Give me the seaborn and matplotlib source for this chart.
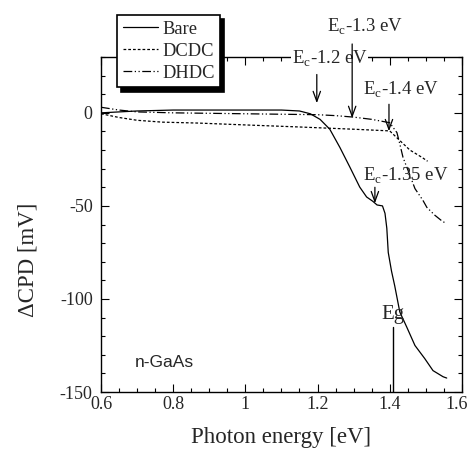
import matplotlib
matplotlib.use("Agg")
import matplotlib.pyplot as plt
import matplotlib.transforms as mtransforms
import seaborn as sns
import numpy as np
import pandas as pd

# ---- data ----
bare_e = [0.6, 0.7, 0.8, 0.9, 1.0, 1.1, 1.15, 1.18, 1.207, 1.234, 1.262, 1.29, 1.317, 1.336,
          1.353, 1.365, 1.38, 1.387, 1.392, 1.396, 1.405, 1.414, 1.428, 1.447, 1.47, 1.497,
          1.52, 1.548, 1.558]
bare_v = [0, 1, 1.5, 1.5, 1.5, 1.5, 1, -0.5, -3.5, -8.8, -18.6, -29.3, -39.9, -45.2,
          -47.5, -49.5, -50, -54, -62, -75, -85, -93, -107, -115, -125, -132,
          -138.5, -141.8, -142.5]

dcdc_e = [0.6, 0.65, 0.7, 0.77, 0.87, 1.0, 1.15, 1.3, 1.40, 1.42, 1.456, 1.49, 1.505]
dcdc_v = [-0.5, -2.5, -4, -5, -5.5, -6.5, -7.6, -8.8, -9.7, -13.4, -20, -24, -26]

dhdc_e = [0.6, 0.65, 0.7, 0.8, 1.0, 1.2, 1.25, 1.30, 1.35, 1.40, 1.41, 1.42, 1.428, 1.437,
          1.455, 1.47, 1.492, 1.503, 1.525, 1.548, 1.555]
dhdc_v = [3, 1.5, 0.5, 0, -0.5, -1, -1.5, -2.3, -3.5, -5.3, -8, -10.6, -16.7, -24,
          -33, -40.7, -47, -50.8, -55, -58.6, -59]

series_names = ["Bare", "DCDC", "DHDC"]
x_ticks = [0.6, 0.8, 1.0, 1.2, 1.4, 1.6]
x_tick_labels = ["0.6", "0.8", "1", "1.2", "1.4", "1.6"]
y_ticks = [0, -50, -100, -150]
y_tick_labels = ["0", "-50", "-100", "-150"]

annot_labels = ["E$_\\mathregular{c}$-1.2 eV", "E$_\\mathregular{c}$-1.3 eV",
                "E$_\\mathregular{c}$-1.4 eV", "E$_\\mathregular{c}$-1.35 eV"]
arrow_x = [1.198, 1.296, 1.398, 1.359]
arrow_tail = [20.6, 37, 4.6, -40]
arrow_tip = [5.2, -2.8, -9.9, -48.6]
label_xy = [(1.128, 26.6), (1.226, 43.5), (1.326, 9.8), (1.326, -36.3)]
eg_x = 1.41

# ---- style ----
sns.set_theme(style="ticks")
plt.rcParams["font.family"] = ["Liberation Serif", "DejaVu Serif"]
plt.rcParams["mathtext.fontset"] = "custom"
plt.rcParams["mathtext.rm"] = "Liberation Serif"
plt.rcParams["axes.unicode_minus"] = False

fig = plt.figure(figsize=(4.67, 4.51), dpi=100)
ax = fig.add_axes([0.2163, 0.1308, 0.989 - 0.2163, 0.8736 - 0.1308])

df_bare = pd.DataFrame({"E": bare_e, "V": bare_v})
df_dcdc = pd.DataFrame({"E": dcdc_e, "V": dcdc_v})
df_dhdc = pd.DataFrame({"E": dhdc_e, "V": dhdc_v})

sns.lineplot(data=df_bare, x="E", y="V", ax=ax, color="black", lw=0.9,
             label=series_names[0], sort=False, estimator=None)
sns.lineplot(data=df_dcdc, x="E", y="V", ax=ax, color="black", lw=0.9,
             linestyle=(0, (2.2, 1.6)), label=series_names[1], sort=False, estimator=None)
sns.lineplot(data=df_dhdc, x="E", y="V", ax=ax, color="black", lw=0.9,
             linestyle=(0, (7, 2, 1, 2, 1, 2)), label=series_names[2], sort=False,
             estimator=None)

ax.set_xlim(0.6, 1.6)
ax.set_ylim(-150, 30)
ax.set_xticks(x_ticks)
ax.set_xticklabels(x_tick_labels)
ax.set_yticks(y_ticks)
ax.set_yticklabels(y_tick_labels)
ax.set_xticks(np.arange(0.6, 1.6001, 0.05), minor=True)
ax.set_yticks(np.arange(-150, 30.01, 10), minor=True)
ax.tick_params(which="both", direction="in", top=True, right=True, color="black")
ax.tick_params(which="major", length=6, width=0.8, labelsize=13)
ax.tick_params(axis="y", which="major", pad=6)
ax.tick_params(axis="x", which="major", pad=3)
ax.tick_params(which="minor", length=3, width=0.8)
for s in ax.spines.values():
    s.set_color("black")
    s.set_linewidth(1.0)

# nudge the last x tick label so it stays inside the figure
last = ax.get_xticklabels()[-1]
last.set_transform(last.get_transform() +
                   mtransforms.ScaledTranslation(-5 / 100, 0, fig.dpi_scale_trans))

ax.set_xlabel("Photon energy [eV]", fontsize=16.5)
ax.set_ylabel("\u0394CPD [mV]", fontsize=16.5)
ax.xaxis.set_label_coords(0.5, -0.105)
ax.yaxis.set_label_coords(-0.172, 0.394)

# annotations
for lab, (lx, ly) in zip(annot_labels, label_xy):
    ax.text(lx, ly, lab, fontsize=13.5, ha="left", va="baseline", clip_on=False,
            zorder=6, bbox=dict(facecolor="white", edgecolor="none", pad=0.3)
            if ly > 20 else None)
for xa, yt, yh in zip(arrow_x, arrow_tail, arrow_tip):
    ax.annotate("", xy=(xa, yh), xytext=(xa, yt),
                arrowprops=dict(arrowstyle="->,head_length=0.6,head_width=0.22",
                                color="black", lw=0.9, shrinkA=0, shrinkB=0),
                annotation_clip=False, zorder=7)

ax.plot([eg_x, eg_x], [-115, -150], color="black", lw=1.0)
ax.text(1.378, -110.8, "Eg", fontsize=15, ha="left", va="baseline")
ax.text(0.694, -134, "n-GaAs", fontsize=12.5, ha="left", va="center",
        family=["Liberation Sans", "DejaVu Sans"])

leg = ax.legend(loc="upper left", bbox_to_anchor=(117 / 467, 1 - 15 / 451),
                bbox_transform=fig.transFigure, borderaxespad=0, frameon=True,
                fancybox=False, edgecolor="black", framealpha=1, fontsize=13.3,
                handlelength=1.9, handletextpad=0.25, borderpad=0.3, labelspacing=0.28,
                shadow={"ox": 3, "oy": -3, "color": "black", "alpha": 1})
leg.get_frame().set_linewidth(1.2)
leg.set_zorder(10)

fig.savefig("out.png", dpi=100)
